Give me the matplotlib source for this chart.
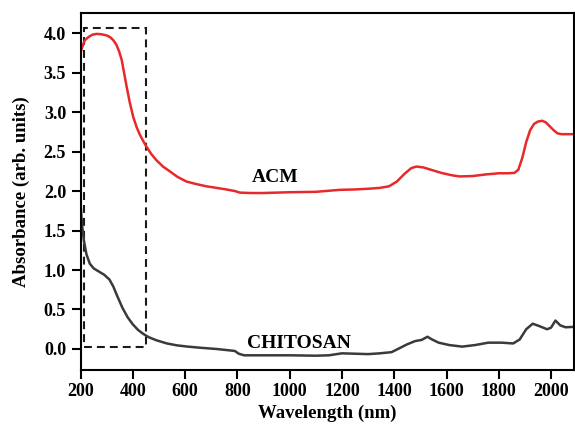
import matplotlib
matplotlib.use("Agg")
import matplotlib.pyplot as plt
from matplotlib.patches import Rectangle

# ACM spectrum (wavelength nm, absorbance)
acm_nm = [200, 210, 216, 230, 245, 261, 280, 300, 312, 325, 337, 347, 357, 366,
          376, 388, 401, 414, 427, 440, 452, 470, 490, 515, 541, 570, 605, 640,
          681, 720, 758, 790, 809, 850, 900, 1000, 1100, 1191, 1250, 1305, 1345,
          1380, 1410, 1440, 1465, 1485, 1510, 1540, 1580, 1620, 1650, 1700, 1750,
          1800, 1835, 1860, 1875, 1890, 1905, 1920, 1935, 1950, 1966, 1980, 1995,
          2010, 2025, 2040, 2060, 2088]
acm_abs = [3.76, 3.86, 3.91, 3.95, 3.98, 3.99, 3.985, 3.97, 3.95, 3.91, 3.85, 3.77,
           3.66, 3.50, 3.32, 3.12, 2.94, 2.81, 2.71, 2.63, 2.56, 2.47, 2.39, 2.31,
           2.25, 2.18, 2.12, 2.09, 2.06, 2.04, 2.02, 2.00, 1.98, 1.975, 1.975, 1.985,
           1.99, 2.015, 2.02, 2.03, 2.04, 2.06, 2.12, 2.22, 2.29, 2.31, 2.30, 2.27,
           2.23, 2.20, 2.185, 2.19, 2.21, 2.225, 2.225, 2.23, 2.27, 2.42, 2.62,
           2.77, 2.85, 2.88, 2.89, 2.87, 2.82, 2.77, 2.73, 2.72, 2.72, 2.72]

# Chitosan spectrum
chi_nm = [200, 205, 212, 222, 235, 250, 270, 290, 310, 325, 340, 360, 380, 400,
          420, 440, 460, 490, 530, 570, 610, 660, 720, 790, 805, 825, 900, 1000,
          1100, 1150, 1200, 1250, 1300, 1345, 1390, 1420, 1450, 1480, 1505, 1527,
          1545, 1570, 1610, 1660, 1710, 1760, 1810, 1855, 1880, 1905, 1930, 1955,
          1985, 2000, 2017, 2035, 2055, 2088]
chi_abs = [1.82, 1.58, 1.38, 1.20, 1.08, 1.02, 0.98, 0.94, 0.88, 0.79, 0.67, 0.52,
           0.40, 0.31, 0.24, 0.19, 0.15, 0.11, 0.07, 0.045, 0.03, 0.015, 0.0,
           -0.025, -0.06, -0.08, -0.08, -0.08, -0.085, -0.08, -0.055, -0.06,
           -0.065, -0.055, -0.04, 0.01, 0.06, 0.10, 0.115, 0.155, 0.12, 0.08,
           0.05, 0.03, 0.05, 0.08, 0.08, 0.07, 0.12, 0.25, 0.32, 0.29, 0.25, 0.27,
           0.36, 0.30, 0.275, 0.28]

# dashed highlight box: (x0, x1), (y0, y1)
box_nm = [213, 450]
box_abs = [0.02, 4.06]

xticks = list(range(200, 2001, 200))
yticks = [0.0, 0.5, 1.0, 1.5, 2.0, 2.5, 3.0, 3.5, 4.0]

plt.rcParams['font.family'] = ['Liberation Serif', 'DejaVu Serif']
plt.rcParams['font.weight'] = 'bold'

fig = plt.figure(figsize=(5.75, 4.24), dpi=100)
ax = fig.add_axes([0.1403, 0.1285, 0.858, 0.840])

ax.plot(acm_nm, acm_abs, color='#e8292b', lw=1.8)
ax.plot(chi_nm, chi_abs, color='#3d3936', lw=1.8)

ax.add_patch(Rectangle((box_nm[0], box_abs[0]), box_nm[1] - box_nm[0],
                       box_abs[1] - box_abs[0], fill=False, ec='#1a1a1a',
                       lw=1.5, ls=(0, (3.8, 2.4))))

ax.text(944, 2.17, 'ACM', ha='center', va='center', fontsize=14, fontweight='bold')
ax.text(1034, 0.075, 'CHITOSAN', ha='center', va='center', fontsize=14, fontweight='bold')

ax.set_xlim(200, 2088)
ax.set_ylim(-0.26, 4.25)
ax.set_xticks(xticks)
ax.set_yticks(yticks)
ax.set_yticklabels([f"{v:.1f}" for v in yticks])
ax.tick_params(direction='out', length=6.5, width=1.5, labelsize=13)
ax.tick_params(axis='x', pad=3)
ax.tick_params(axis='y', pad=4)
for s in ax.spines.values():
    s.set_linewidth(1.5)

ax.set_xlabel('Wavelength (nm)', fontsize=13.5, fontweight='bold')
ax.set_ylabel('Absorbance (arb. units)', fontsize=13.5, fontweight='bold')
ax.xaxis.set_label_coords(0.5, -0.098)
ax.yaxis.set_label_coords(-0.103, 0.5)

fig.savefig('out.png', dpi=100)
